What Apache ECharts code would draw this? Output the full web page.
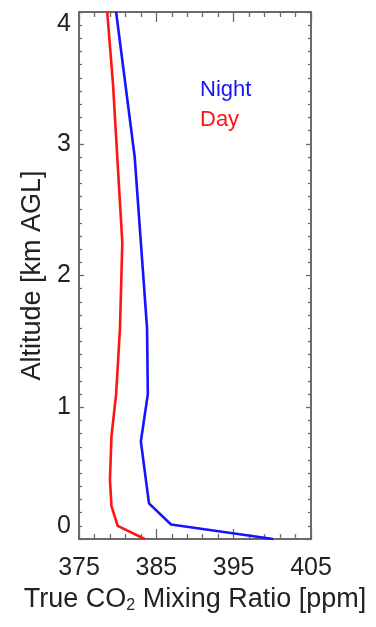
<!DOCTYPE html>
<html>
<head>
<meta charset="utf-8">
<script src="https://cdn.jsdelivr.net/npm/echarts@6/dist/echarts.min.js"></script>
<style>
  html, body { margin: 0; padding: 0; background: #fff; }
  #chart { width: 376px; height: 627px; }
</style>
</head>
<body>
<div id="chart"></div>
<script>
// Vertical CO2 profiles: altitude (km above ground) vs. mixing ratio (ppm)
const nightAltitude = [0.0, 0.11, 0.27, 0.74, 1.1, 1.6, 2.9, 4.0];
const nightCO2      = [400.1, 386.9, 384.05, 383.0, 383.9, 383.8, 382.2, 379.8];

const dayAltitude = [0.0, 0.1, 0.25, 0.45, 0.78, 1.1, 1.6, 2.25, 3.45, 4.0];
const dayCO2      = [383.5, 380.0, 379.2, 379.0, 379.2, 379.8, 380.3, 380.6, 379.4, 378.65];

const xTicks = [375, 385, 395, 405];
const yTicks = [0, 1, 2, 3, 4];

const FONT = 'Liberation Sans, Arial, Helvetica, sans-serif';
const AXIS_COLOR = '#3a3a3a';
const TICK_COLOR = '#6a6a6a';

function pairs(xs, ys) {
  return ys.map((y, i) => [xs[i], y]);
}

const xRange = { min: xTicks[0], max: xTicks[xTicks.length - 1], interval: xTicks[1] - xTicks[0] };
const yRange = { min: yTicks[0], max: yTicks[yTicks.length - 1], interval: yTicks[1] - yTicks[0] };

function xAxisBase(position, showLabels) {
  return {
    type: 'value',
    position: position,
    min: xRange.min, max: xRange.max, interval: xRange.interval,
    axisLine: { show: true, onZero: false, lineStyle: { color: AXIS_COLOR, width: 1.5 } },
    axisTick: { show: true, inside: true, length: 10, lineStyle: { color: TICK_COLOR, width: 1.3 } },
    minorTick: { show: true, splitNumber: 5, length: 5, lineStyle: { color: TICK_COLOR, width: 1.3 } },
    splitLine: { show: false },
    axisLabel: {
      show: showLabels, margin: 17,
      fontFamily: FONT, fontSize: 25, color: '#222'
    }
  };
}

function yAxisBase(position, showLabels) {
  return {
    type: 'value',
    position: position,
    min: yRange.min, max: yRange.max, interval: yRange.interval,
    axisLine: { show: true, onZero: false, lineStyle: { color: AXIS_COLOR, width: 1.5 } },
    axisTick: { show: true, inside: true, length: 5, lineStyle: { color: TICK_COLOR, width: 1.3 } },
    minorTick: { show: true, splitNumber: 10, length: 3, lineStyle: { color: TICK_COLOR, width: 1.3 } },
    splitLine: { show: false },
    axisLabel: {
      show: showLabels, margin: 8,
      fontFamily: FONT, fontSize: 25, color: '#222',
      verticalAlignMinLabel: 'bottom',
      verticalAlignMaxLabel: 'top'
    }
  };
}

const bottomX = Object.assign(xAxisBase('bottom', true), {
  name: 'True CO{sub|2} Mixing Ratio [ppm]',
  nameLocation: 'middle',
  nameGap: 47,
  nameTextStyle: {
    fontFamily: FONT, fontSize: 27, color: '#222',
    rich: {
      sub: { fontFamily: FONT, fontSize: 16, color: '#222', verticalAlign: 'bottom', padding: [12, 0, 0, 0] }
    }
  }
});

const leftY = Object.assign(yAxisBase('left', true), {
  name: 'Altitude [km AGL]',
  nameLocation: 'middle',
  nameGap: 32,
  nameTextStyle: { fontFamily: FONT, fontSize: 27, color: '#222' }
});

const chart = echarts.init(document.getElementById('chart'), null, { renderer: 'canvas' });

chart.setOption({
  animation: false,
  backgroundColor: '#ffffff',
  grid: { left: 79, right: 65, top: 12, bottom: 88, containLabel: false },
  xAxis: [bottomX, xAxisBase('top', false)],
  yAxis: [leftY, yAxisBase('right', false)],
  legend: {
    orient: 'vertical',
    left: 190,
    top: 74,
    itemWidth: 0,
    itemHeight: 0,
    itemGap: 8,
    selectedMode: false,
    textStyle: { fontFamily: FONT, fontSize: 22 },
    data: [
      { name: 'Night', icon: 'none', textStyle: { color: '#1414ff' } },
      { name: 'Day', icon: 'none', textStyle: { color: '#ff1414' } }
    ]
  },
  series: [
    {
      name: 'Night', type: 'line', xAxisIndex: 0, yAxisIndex: 0,
      data: pairs(nightCO2, nightAltitude),
      symbol: 'none', clip: false,
      lineStyle: { color: '#1414ff', width: 2.6 },
      itemStyle: { color: '#1414ff' }
    },
    {
      name: 'Day', type: 'line', xAxisIndex: 0, yAxisIndex: 0,
      data: pairs(dayCO2, dayAltitude),
      symbol: 'none', clip: false,
      lineStyle: { color: '#ff1414', width: 2.6 },
      itemStyle: { color: '#ff1414' }
    }
  ]
});
</script>
</body>
</html>
